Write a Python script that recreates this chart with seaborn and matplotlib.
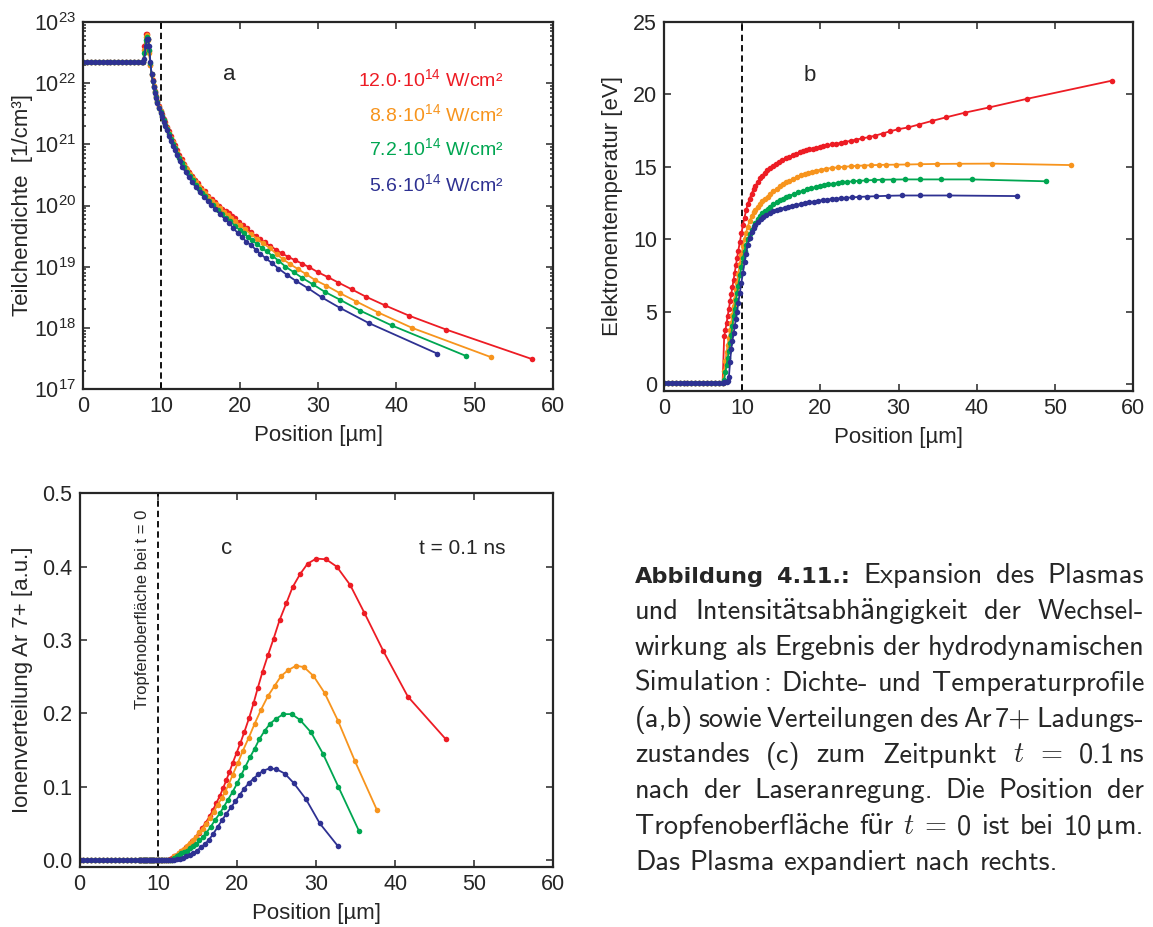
import matplotlib
matplotlib.use("Agg")
import matplotlib.pyplot as plt
import numpy as np
import pandas as pd
import seaborn as sns
from matplotlib.ticker import MultipleLocator, FormatStrFormatter, LogLocator, NullFormatter

# ------------------------------------------------------------------
# Data: hydrodynamic simulation at t = 0.1 ns, four laser intensities
# ------------------------------------------------------------------
intensity_labels = ["12.0", "8.8", "7.2", "5.6"]           # 10^14 W/cm^2
line_colors = ["#ED1C24", "#F7941D", "#00A651", "#2E3192"]

# unexpanded droplet interior (shared by all runs)
core_pos = [0.0, 0.5, 1.0, 1.5, 2.0, 2.5, 3.0, 3.5, 4.0, 4.5, 5.0, 5.5, 6.0, 6.5, 7.0, 7.5]
core_log_density = [22.34, 22.34, 22.34, 22.34, 22.34, 22.34, 22.34, 22.34,
                    22.34, 22.34, 22.34, 22.34, 22.34, 22.34, 22.34, 22.34]
core_temp = [0.1, 0.1, 0.1, 0.1, 0.1, 0.1, 0.1, 0.1, 0.1, 0.1, 0.1, 0.1, 0.1, 0.1, 0.1, 0.1]
core_ion = [0.0, 0.0, 0.0, 0.0, 0.0, 0.0, 0.0, 0.0, 0.0, 0.0, 0.0, 0.0, 0.0, 0.0, 0.0, 0.0]

# 12.0e14 W/cm^2
pos_120 = [7.7, 7.85, 8.0, 8.15, 8.3, 8.45, 8.6, 8.75, 8.9, 9.05, 9.2, 9.35, 9.5, 9.7, 9.9,
           10.1, 10.3, 10.5, 10.7, 10.95, 11.2, 11.45, 11.7, 12.0, 12.3, 12.6, 12.9, 13.2,
           13.55, 13.9, 14.3, 14.7, 15.1, 15.55, 16.0, 16.5, 16.9, 17.35, 17.8, 18.2, 18.6,
           19.0, 19.4, 19.9, 20.4, 20.9, 21.5, 22.06, 22.6, 23.2, 23.9, 24.6, 25.35, 26.2,
           27.0, 27.96, 28.9, 29.99, 31.25, 32.6, 34.3, 36.1, 38.5, 41.6, 46.4, 57.3]
log_density_120 = [22.35, 22.6, 22.8, 22.81, 22.72, 22.52, 22.3, 22.15, 22.05, 21.96,
                   21.87, 21.79, 21.71, 21.62, 21.55, 21.49, 21.42, 21.36, 21.29, 21.21,
                   21.14, 21.06, 20.99, 20.9, 20.83, 20.76, 20.68, 20.62, 20.55, 20.48,
                   20.42, 20.36, 20.29, 20.23, 20.16, 20.1, 20.05, 20.0, 19.95, 19.91,
                   19.87, 19.83, 19.79, 19.73, 19.68, 19.63, 19.56, 19.5, 19.45, 19.4,
                   19.34, 19.28, 19.22, 19.16, 19.11, 19.05, 18.99, 18.91, 18.83, 18.74,
                   18.63, 18.51, 18.37, 18.2, 17.97, 17.49]
temp_120 = [3.3, 3.7, 4.2, 4.7, 5.2, 5.7, 6.2, 6.7, 7.2, 7.7,
            8.2, 8.7, 9.2, 9.8, 10.4, 11.0, 11.5, 12.0, 12.4, 12.8,
            13.15, 13.45, 13.7, 13.95, 14.2, 14.4, 14.6, 14.75, 14.9, 15.05,
            15.2, 15.35, 15.45, 15.6, 15.7, 15.8, 15.9, 16.0, 16.07, 16.15,
            16.2, 16.25, 16.3, 16.35, 16.42, 16.48, 16.55, 16.6, 16.65, 16.72,
            16.8, 16.88, 16.96, 17.05, 17.15, 17.3, 17.45, 17.6, 17.72, 17.92,
            18.17, 18.42, 18.74, 19.1, 19.69, 20.95]
ion_120 = [0.0, 0.0, 0.0, 0.0, 0.0, 0.0, 0.0, 0.0, 0.0, 0.0, 0.0, 0.0, 0.0, 0.0, 0.0,
           0.0, 0.0, 0.0, 0.0, 0.0, 0.0,
           0.001, 0.003, 0.005, 0.007, 0.009, 0.012, 0.014, 0.018, 0.021, 0.026,
           0.031, 0.037, 0.044, 0.051, 0.06, 0.068, 0.078, 0.088, 0.098, 0.109,
           0.12, 0.132, 0.146, 0.16, 0.175, 0.194, 0.214, 0.235, 0.257, 0.28,
           0.302, 0.327, 0.35, 0.372, 0.39, 0.404, 0.411, 0.41, 0.4, 0.375,
           0.337, 0.285, 0.223, 0.165]

# 8.8e14 W/cm^2
pos_88 = [7.7, 7.85, 8.0, 8.15, 8.3, 8.45, 8.6, 8.75, 8.9, 9.05, 9.2, 9.35, 9.5, 9.7, 9.9,
          10.1, 10.3, 10.5, 10.7, 10.95, 11.2, 11.45, 11.7, 12.0, 12.3, 12.6, 12.9, 13.25,
          13.6, 14.0, 14.4, 14.8, 15.2, 15.6, 16.0, 16.5, 17.0, 17.5, 18.0, 18.45, 18.9,
          19.4, 20.05, 20.7, 21.45, 22.2, 23.0, 23.9, 24.75, 25.55, 26.45, 27.45, 28.45,
          29.65, 31.05, 32.75, 34.9, 37.7, 42.0, 52.1]
log_density_88 = [22.34, 22.55, 22.75, 22.78, 22.7, 22.5, 22.3, 22.14, 22.04, 21.95,
                  21.86, 21.78, 21.7, 21.61, 21.54, 21.47, 21.4, 21.34, 21.27, 21.19,
                  21.11, 21.04, 20.96, 20.88, 20.8, 20.73, 20.66, 20.59, 20.52, 20.45,
                  20.38, 20.32, 20.26, 20.2, 20.14, 20.08, 20.02, 19.96, 19.9, 19.85,
                  19.8, 19.75, 19.68, 19.61, 19.53, 19.46, 19.38, 19.3, 19.2, 19.12,
                  19.04, 18.96, 18.88, 18.78, 18.69, 18.57, 18.43, 18.25, 18.0, 17.52]
temp_88 = [0.9, 1.6, 2.2, 2.7, 3.2, 3.7, 4.2, 4.8, 5.4, 5.9,
           6.5, 7.0, 7.6, 8.3, 8.9, 9.5, 10.0, 10.45, 10.85, 11.25,
           11.6, 11.85, 12.05, 12.25, 12.45, 12.62, 12.78, 12.95, 13.1, 13.3,
           13.48, 13.65, 13.8, 13.92, 14.03, 14.17, 14.3, 14.42, 14.52, 14.6,
           14.67, 14.73, 14.8, 14.86, 14.92, 14.96, 15.0, 15.04, 15.07, 15.09,
           15.11, 15.13, 15.14, 15.15, 15.16, 15.18, 15.2, 15.21, 15.22, 15.12]
ion_88 = [0.0, 0.0, 0.0, 0.0, 0.0, 0.0, 0.0, 0.0, 0.0, 0.0, 0.0, 0.0, 0.0, 0.0, 0.0,
          0.0, 0.0, 0.0, 0.0, 0.0, 0.0, 0.0, 0.0,
          0.005, 0.007, 0.009, 0.012, 0.015, 0.019, 0.023, 0.027, 0.032, 0.038,
          0.043, 0.049, 0.057, 0.066, 0.075, 0.084, 0.093, 0.103, 0.116, 0.132,
          0.149, 0.167, 0.186, 0.205, 0.224, 0.238, 0.251, 0.259, 0.265, 0.263,
          0.251, 0.228, 0.19, 0.135, 0.068]

# 7.2e14 W/cm^2
pos_72 = [7.7, 7.85, 8.0, 8.15, 8.3, 8.45, 8.6, 8.75, 8.9, 9.05, 9.2, 9.35, 9.5, 9.7, 9.9,
          10.1, 10.3, 10.5, 10.7, 10.95, 11.2, 11.45, 11.7, 12.0, 12.3, 12.6, 12.9, 13.25,
          13.6, 14.0, 14.4, 14.8, 15.2, 15.6, 16.05, 16.6, 17.2, 17.8, 18.3, 18.8, 19.4,
          20.0, 20.5, 21.0, 21.6, 22.2, 22.8, 23.45, 24.15, 24.95, 25.85, 26.9, 27.95,
          29.35, 30.85, 32.8, 35.4, 39.4, 48.9]
log_density_72 = [22.34, 22.5, 22.7, 22.76, 22.72, 22.55, 22.33, 22.15, 22.04, 21.94,
                  21.85, 21.77, 21.69, 21.6, 21.53, 21.46, 21.39, 21.32, 21.25, 21.17,
                  21.09, 21.01, 20.94, 20.85, 20.77, 20.7, 20.63, 20.55, 20.48, 20.41,
                  20.34, 20.27, 20.21, 20.15, 20.08, 20.01, 19.93, 19.86, 19.8, 19.74,
                  19.67, 19.6, 19.55, 19.49, 19.43, 19.37, 19.31, 19.25, 19.18, 19.1,
                  19.0, 18.91, 18.82, 18.71, 18.59, 18.46, 18.28, 18.04, 17.54]
temp_72 = [0.3, 0.8, 1.3, 1.8, 2.3, 2.8, 3.4, 4.0, 4.7, 5.2,
           5.8, 6.3, 6.8, 7.5, 8.1, 8.7, 9.2, 9.6, 10.0, 10.35,
           10.65, 10.9, 11.15, 11.4, 11.6, 11.8, 11.95, 12.1, 12.25, 12.4,
           12.55, 12.7, 12.8, 12.9, 13.0, 13.12, 13.25, 13.35, 13.45, 13.52,
           13.6, 13.68, 13.73, 13.78, 13.83, 13.88, 13.92, 13.96, 14.0, 14.03,
           14.06, 14.09, 14.11, 14.12, 14.13, 14.13, 14.13, 14.13, 14.0]
ion_72 = [0.0, 0.0, 0.0, 0.0, 0.0, 0.0, 0.0, 0.0, 0.0, 0.0, 0.0, 0.0, 0.0, 0.0, 0.0,
          0.0, 0.0, 0.0, 0.0, 0.0, 0.0, 0.0, 0.0,
          0.003, 0.005, 0.007, 0.009, 0.011, 0.013, 0.016, 0.019, 0.022, 0.027,
          0.031, 0.037, 0.045, 0.055, 0.064, 0.073, 0.082, 0.093, 0.105, 0.116,
          0.127, 0.14, 0.152, 0.165, 0.176, 0.186, 0.193, 0.199, 0.199, 0.191,
          0.174, 0.145, 0.1, 0.04]

# 5.6e14 W/cm^2
pos_56 = [7.7, 7.85, 8.0, 8.15, 8.3, 8.45, 8.6, 8.75, 8.9, 9.05, 9.2, 9.35, 9.5, 9.7, 9.9,
          10.1, 10.3, 10.5, 10.7, 10.95, 11.2, 11.45, 11.7, 12.0, 12.35, 12.7, 13.1, 13.5,
          13.95, 14.4, 14.9, 15.45, 15.9, 16.35, 16.9, 17.5, 18.1, 18.6, 19.2, 19.75, 20.3,
          20.85, 21.45, 22.05, 22.65, 23.3, 24.1, 24.95, 26.0, 27.15, 28.7, 30.45, 32.75,
          36.45, 45.2]
log_density_56 = [22.34, 22.4, 22.6, 22.72, 22.73, 22.6, 22.35, 22.15, 22.03, 21.93,
                  21.84, 21.76, 21.68, 21.59, 21.51, 21.44, 21.37, 21.3, 21.23, 21.14,
                  21.06, 20.98, 20.91, 20.82, 20.72, 20.63, 20.54, 20.46, 20.38, 20.3,
                  20.22, 20.14, 20.07, 20.01, 19.94, 19.86, 19.78, 19.72, 19.63, 19.55,
                  19.48, 19.41, 19.35, 19.28, 19.21, 19.14, 19.06, 18.97, 18.87, 18.77,
                  18.65, 18.5, 18.33, 18.08, 17.58]
temp_56 = [0.12, 0.13, 0.15, 0.2, 0.5, 1.5, 2.4, 3.0, 3.5, 4.0,
           4.5, 5.0, 5.6, 6.3, 7.0, 7.7, 8.4, 9.0, 9.6, 10.1,
           10.5, 10.8, 11.0, 11.2, 11.4, 11.55, 11.7, 11.82, 11.93, 12.02,
           12.1, 12.18, 12.24, 12.3, 12.37, 12.43, 12.5, 12.55, 12.6, 12.65,
           12.7, 12.73, 12.77, 12.8, 12.83, 12.86, 12.89, 12.92, 12.95, 12.97,
           13.0, 13.02, 13.02, 13.02, 12.98]
ion_56 = [0.0, 0.0, 0.0, 0.0, 0.0, 0.0, 0.0, 0.0, 0.0, 0.0, 0.0, 0.0, 0.0, 0.0, 0.0,
          0.0, 0.0, 0.0, 0.0, 0.0, 0.0, 0.0, 0.0, 0.0,
          0.001, 0.002, 0.003, 0.005, 0.007, 0.009, 0.013, 0.018, 0.022, 0.027,
          0.035, 0.045, 0.055, 0.063, 0.072, 0.08, 0.089, 0.097, 0.105, 0.111,
          0.117, 0.122, 0.125, 0.124, 0.118, 0.105, 0.083, 0.05, 0.019]

runs = {
    "12.0": (pos_120, log_density_120, temp_120, ion_120),
    "8.8": (pos_88, log_density_88, temp_88, ion_88),
    "7.2": (pos_72, log_density_72, temp_72, ion_72),
    "5.6": (pos_56, log_density_56, temp_56, ion_56),
}

profile_rows, ion_rows = [], []
for label in intensity_labels:
    pos, logd, temp, ion = runs[label]
    for x, d, t in zip(core_pos + pos, core_log_density + logd, core_temp + temp):
        profile_rows.append({"pos": x, "density": 10.0 ** d, "temp": t, "intensity": label})
    for x, v in zip(core_pos + pos[:len(ion)], core_ion + ion):
        ion_rows.append({"pos": x, "ion": v, "intensity": label})
profiles = pd.DataFrame(profile_rows)
ions = pd.DataFrame(ion_rows)

# ------------------------------------------------------------------
# Styling
# ------------------------------------------------------------------
sns.set_style("ticks")
plt.rcParams["font.family"] = ["Liberation Sans", "DejaVu Sans"]
plt.rcParams["mathtext.default"] = "regular"
plt.rcParams["axes.linewidth"] = 1.6

W, H = 1153, 927
fig = plt.figure(figsize=(W / 100, H / 100), dpi=100)


def px_axes(left, top, right, bottom):
    return fig.add_axes([left / W, 1 - bottom / H, (right - left) / W, (bottom - top) / H])


ax_a = px_axes(83, 22, 553, 389)
ax_b = px_axes(664, 22, 1133, 390.7)
ax_c = px_axes(79.5, 493.3, 553, 866.7)

line_kw = dict(hue="intensity", hue_order=intensity_labels, palette=line_colors,
               estimator=None, sort=False, marker="o", markersize=4.0,
               markeredgewidth=0, linewidth=1.3, legend=False)

for ax in (ax_a, ax_b, ax_c):
    ax.axvline(10, color="black", linestyle=(0, (3.5, 2.2)), linewidth=1.3, zorder=1)

ax_a.set_yscale("log")
sns.lineplot(data=profiles, x="pos", y="density", ax=ax_a, **line_kw)
sns.lineplot(data=profiles, x="pos", y="temp", ax=ax_b, **line_kw)
sns.lineplot(data=ions, x="pos", y="ion", ax=ax_c, **line_kw)

ax_a.set_ylim(1e17, 1e23)
ax_a.yaxis.set_major_locator(LogLocator(base=10, numticks=10))
ax_a.yaxis.set_minor_locator(LogLocator(base=10, subs=np.arange(2, 10), numticks=20))
ax_a.yaxis.set_minor_formatter(NullFormatter())

ax_b.set_ylim(-0.46, 25)
ax_b.yaxis.set_major_locator(MultipleLocator(5))

ax_c.set_ylim(-0.009, 0.5)
ax_c.yaxis.set_major_locator(MultipleLocator(0.1))
ax_c.yaxis.set_major_formatter(FormatStrFormatter("%.1f"))

for ax in (ax_a, ax_b, ax_c):
    ax.set_xlim(0, 60)
    ax.xaxis.set_major_locator(MultipleLocator(10))
    ax.tick_params(which="both", direction="in", top=True, right=True,
                   width=1.1, labelsize=15.5, pad=5)
    ax.tick_params(which="major", length=5)
    ax.tick_params(which="minor", length=2.5)
    for s in ax.spines.values():
        s.set_visible(True)
        s.set_linewidth(1.6)
    ax.set_xlabel("Position [µm]", fontsize=16)

ax_a.set_ylabel("Teilchendichte  [1/cm³]", fontsize=16)
ax_b.set_ylabel("Elektronentemperatur [eV]", fontsize=16)
ax_c.set_ylabel("Ionenverteilung Ar 7+ [a.u.]", fontsize=16)

ax_a.xaxis.set_label_coords(0.5, -0.098)
ax_b.xaxis.set_label_coords(0.5, -0.098)
ax_c.xaxis.set_label_coords(0.5, -0.097)
ax_a.yaxis.set_label_coords(-0.106, 0.5)
ax_b.yaxis.set_label_coords(-0.087, 0.5)
ax_c.yaxis.set_label_coords(-0.098, 0.5)

# panel letters and annotations
ax_a.text(0.311, 0.856, "a", transform=ax_a.transAxes, ha="center", va="center", fontsize=16)
ax_b.text(0.311, 0.856, "b", transform=ax_b.transAxes, ha="center", va="center", fontsize=16)
ax_c.text(0.311, 0.851, "c", transform=ax_c.transAxes, ha="center", va="center", fontsize=16)
ax_c.text(0.899, 0.851, "t = 0.1 ns", transform=ax_c.transAxes, ha="right", va="center", fontsize=15)
ax_c.text(8.0, 0.478, "Tropfenoberfläche bei t = 0", rotation=90, ha="center", va="top",
          fontsize=12)

legend_rows = [0.826, 0.731, 0.636, 0.540]
for label, color, yb in zip(intensity_labels, line_colors, legend_rows):
    ax_a.text(0.894, yb, label + "·10$^{14}$ W/cm²", transform=ax_a.transAxes,
              ha="right", va="baseline", color=color, fontsize=14)

# ------------------------------------------------------------------
# Caption block (justified lines); each word is a list of glued pieces
# (text, props, extra space after the piece)
# ------------------------------------------------------------------
renderer = fig.canvas.get_renderer()
CAP = 20.4
reg = dict(family=["cmss10", "Lato"], fontsize=CAP)
sym = dict(family="Lato", fontsize=CAP - 1)
bold = dict(family="DejaVu Sans", fontsize=16.2, fontweight="bold")
ital = dict(family=["cmmi10", "DejaVu Serif"], fontsize=CAP)
rom = dict(family=["cmr10", "DejaVu Serif"], fontsize=CAP)


def w(*pieces):
    return [p if len(p) == 3 else (p[0], p[1], 0.0) for p in pieces]


caption_lines = [
    [w(("Abbildung", bold)), w(("4.11.:", bold)), w(("Expansion", reg)), w(("des", reg)),
     w(("Plasmas", reg))],
    [w(("und", reg)), w(("Intensitätsabhängigkeit", reg)), w(("der", reg)),
     w(("Wechsel-", reg))],
    [w(("wirkung", reg)), w(("als", reg)), w(("Ergebnis", reg)), w(("der", reg)),
     w(("hydrodynamischen", reg))],
    [w(("Simulation", reg, 3.0), (":", reg)), w(("Dichte-", reg)), w(("und", reg)),
     w(("Temperaturprofile", reg))],
    [w(("(a,b)", reg)), w(("sowie", reg)), w(("Verteilungen", reg)), w(("des", reg)),
     w(("Ar", reg, 4.0), ("7+", reg)), w(("Ladungs-", reg))],
    [w(("zustandes", reg)), w(("(c)", reg)), w(("zum", reg)), w(("Zeitpunkt", reg)),
     w(("t", ital)), w(("=", rom)), w(("0.1", reg, 4.0), ("ns", reg))],
    [w(("nach", reg)), w(("der", reg)), w(("Laseranregung.", reg)), w(("Die", reg)),
     w(("Position", reg)), w(("der", reg))],
    [w(("Tropfenoberfläche", reg)), w(("für", reg)), w(("t", ital)), w(("=", rom)),
     w(("0", reg)), w(("ist", reg)), w(("bei", reg)),
     w(("10", reg, 4.0), ("\u00b5", sym), ("m.", reg))],
    [w(("Das", reg)), w(("Plasma", reg)), w(("expandiert", reg)), w(("nach", reg)),
     w(("rechts.", reg))],
]

X0, X1 = 635, 1144
base0, step = 583, 35.9
for i, words in enumerate(caption_lines):
    yb = base0 + i * step
    word_items = []
    for pieces in words:
        items = []
        for s, props, pad in pieces:
            t = fig.text(0, 0, s, ha="left", va="baseline", **props)
            items.append((t, t.get_window_extent(renderer).width, pad))
        width = sum(wd + pad for _, wd, pad in items[:-1]) + items[-1][1]
        word_items.append((items, width))
    total = sum(wd for _, wd in word_items)
    justify = i < len(caption_lines) - 1
    gap = (X1 - X0 - total) / (len(word_items) - 1) if justify else 9.0
    x = X0
    for items, width in word_items:
        xp = x
        for t, wd, pad in items:
            t.set_position((xp / W, 1 - yb / H))
            xp += wd + pad
        x += width + gap

fig.savefig("out.png", dpi=100)
